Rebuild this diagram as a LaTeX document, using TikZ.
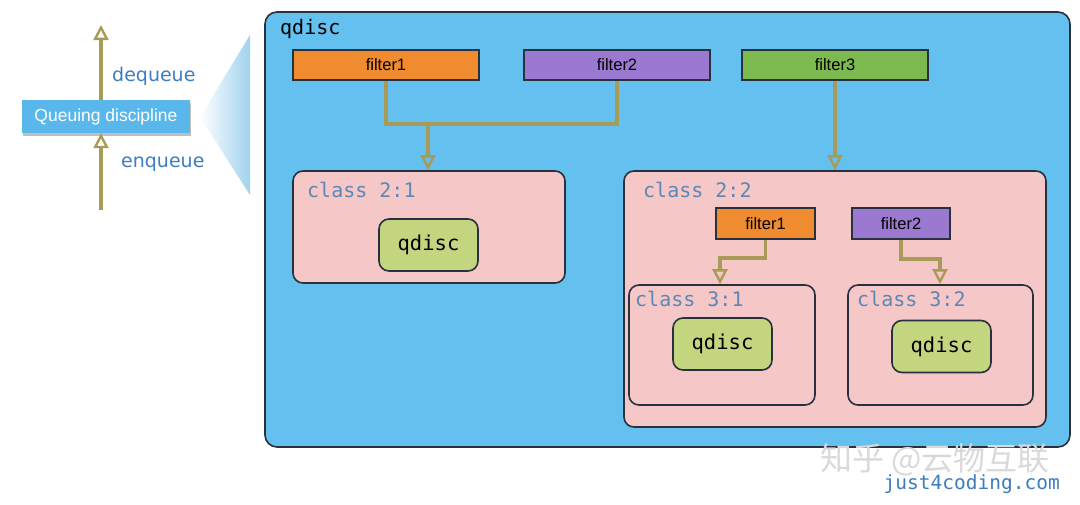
\documentclass[tikz,border=0pt]{standalone}
\usepackage{fontspec}
\setmainfont{Liberation Sans}
\setmonofont{DejaVu Sans Mono}
\newfontfamily\flowfont{DejaVu Sans}
\newfontfamily\cjkfont{Noto Sans CJK SC}
\usetikzlibrary{positioning,arrows.meta,shadows}

\definecolor{skyfill}{RGB}{100,192,238}
\definecolor{edgedark}{RGB}{40,50,62}
\definecolor{classpink}{RGB}{245,199,199}
\definecolor{qdgreen}{RGB}{195,213,127}
\definecolor{fltorange}{RGB}{240,139,47}
\definecolor{fltpurple}{RGB}{156,121,209}
\definecolor{fltgreen}{RGB}{124,186,79}
\definecolor{linkolive}{RGB}{168,155,87}
\definecolor{labelblue}{RGB}{92,135,183}
\definecolor{flowblue}{RGB}{61,125,191}
\definecolor{qdblue}{RGB}{90,183,236}
\definecolor{funnelblue}{RGB}{160,210,238}

\begin{document}
\begin{tikzpicture}[x=1pt,y=-1pt]
	% Define styles
	\tikzset{
		box/.style={draw=edgedark, line width=1.6pt, rounded corners=10pt},
		filterbox/.style={draw=edgedark, line width=1.5pt, minimum height=30pt, inner sep=0pt,
			font=\fontsize{16.5}{17}\selectfont},
		classbox/.style={box, fill=classpink},
		qdbox/.style={box, fill=qdgreen, minimum width=99pt, minimum height=52pt,
			font=\ttfamily\fontsize{20.5}{21}\selectfont},
		clslabel/.style={anchor=base west, inner sep=0pt, text=labelblue,
			font=\ttfamily\fontsize{20}{20}\selectfont},
		flowlabel/.style={anchor=base west, inner sep=0pt, text=flowblue,
			font=\flowfont\fontsize{19}{19}\selectfont},
		link/.style={draw=linkolive, line width=3.2pt},
		arr/.style={link, -{Triangle[open, length=15pt, width=15pt, line width=2.4pt]}}
	}
	\useasboundingbox (0,0) rectangle (1080,504);
	
	% Left side: queuing discipline
	\shade[left color=white, right color=funnelblue] (200,117) -- (250,35) -- (250,195) -- cycle;
	\node[fill=qdblue, minimum width=168pt, minimum height=33pt,
		text=white, font=\fontsize{17.5}{18}\selectfont,
		drop shadow={opacity=0.5, shadow xshift=1pt, shadow yshift=-2.5pt}] (qd) at (106,116.5) {Queuing discipline};
	\coordinate (enq) at (101,210);
	\coordinate (deq) at (101,25);
	\draw[arr] (enq) -- (enq |- qd.south);
	\draw[arr] (deq |- qd.north) -- (deq);
	\node[flowlabel] (deqlabel) at (112,81) {dequeue};
	\node[flowlabel] (enqlabel) at (121,167) {enqueue};
	
	% Root qdisc
	\node[box, fill=skyfill, rounded corners=12pt, minimum width=805pt, minimum height=435pt] (root) at (667.5,229.5) {};
	\node[clslabel, text=black] (rootlabel) at (280,34) {qdisc};
	\node[filterbox, fill=fltorange, minimum width=186pt] (filter1) at (386,65) {filter1};
	\node[filterbox, fill=fltpurple, minimum width=186pt] (filter2) at (617,65) {filter2};
	\node[filterbox, fill=fltgreen, minimum width=186pt] (filter3) at (835,65) {filter3};
	
	% Class 2:1
	\node[classbox, minimum width=272pt, minimum height=112pt] (class21) at (429,227) {};
	\node[clslabel] (label21) at (307,197) {class 2:1};
	\node[qdbox] (qdisc21) at (428.5,245) {qdisc};
	
	% Class 2:2
	\node[classbox, minimum width=422pt, minimum height=256pt] (class22) at (835,299) {};
	\node[clslabel] (label22) at (643,197) {class 2:2};
	\node[filterbox, fill=fltorange, minimum width=99pt, minimum height=31pt] (subfilter1) at (765.5,223.5) {filter1};
	\node[filterbox, fill=fltpurple, minimum width=98pt, minimum height=31pt] (subfilter2) at (901,223.5) {filter2};
	
	% Class 3:1 and 3:2
	\node[classbox, minimum width=186pt, minimum height=120pt] (class31) at (722,345) {};
	\node[clslabel] (label31) at (635,306) {class 3:1};
	\node[qdbox] (qdisc31) at (722.5,344) {qdisc};
	\node[classbox, minimum width=185pt, minimum height=120pt] (class32) at (940.5,345) {};
	\node[clslabel] (label32) at (857,306) {class 3:2};
	\node[qdbox] (qdisc32) at (941.5,346.5) {qdisc};
	
	% Connectors
	\coordinate (join) at (428,124);
	\draw[link] (filter1.south) |- (join) -| (filter2.south);
	\draw[arr] (join) -- (join |- class21.north);
	\draw[arr] (filter3.south) -- (class22.north);
	\coordinate (bend1) at (720,258);
	\coordinate (bend2) at (940,259);
	\draw[arr] (subfilter1.south) |- (bend1) -- (bend1 |- class31.north);
	\draw[arr] (subfilter2.south) |- (bend2) -- (bend2 |- class32.north);
	
	% Watermark
	\node[anchor=base west, inner sep=0pt, text=black!15, font=\cjkfont\fontsize{32}{32}\selectfont] (mark) at (820,470) {知乎 @云物互联};
	\node[anchor=base east, inner sep=0pt, text=flowblue, font=\ttfamily\fontsize{19.5}{20}\selectfont] (site) at (1060,489) {just4coding.com};
\end{tikzpicture}
\end{document}
